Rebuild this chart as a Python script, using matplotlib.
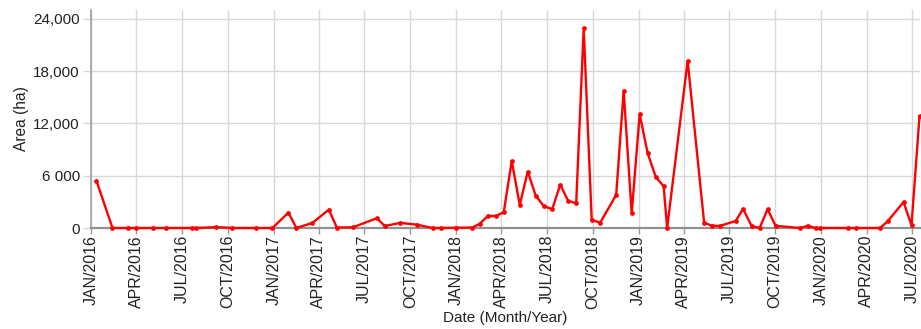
import matplotlib
matplotlib.use("Agg")
import matplotlib.pyplot as plt
import pandas as pd

plt.rcParams["font.family"] = ["Liberation Sans", "DejaVu Sans"]

# Observation dates and mapped area (ha)
obs_dates = [
    "2016-01-12", "2016-02-13", "2016-03-16", "2016-03-31", "2016-05-04",
    "2016-05-31", "2016-07-22", "2016-07-30", "2016-09-08", "2016-10-10",
    "2016-11-27", "2016-12-29", "2017-01-30", "2017-02-15", "2017-03-19",
    "2017-04-21", "2017-05-07", "2017-06-08", "2017-07-26", "2017-08-11",
    "2017-09-11", "2017-10-14", "2017-11-15", "2017-12-01", "2018-01-01",
    "2018-02-02", "2018-02-17", "2018-03-05", "2018-03-21", "2018-04-06",
    "2018-04-22", "2018-05-08", "2018-05-24", "2018-06-09", "2018-06-25",
    "2018-07-12", "2018-07-28", "2018-08-13", "2018-08-29", "2018-09-13",
    "2018-09-29", "2018-10-16", "2018-11-17", "2018-12-02", "2018-12-18",
    "2019-01-03", "2019-01-19", "2019-02-04", "2019-02-20", "2019-02-27",
    "2019-04-09", "2019-05-12", "2019-05-27", "2019-06-12", "2019-07-14",
    "2019-07-29", "2019-08-15", "2019-08-31", "2019-09-16", "2019-10-02",
    "2019-11-20", "2019-12-05", "2019-12-21", "2019-12-30", "2020-02-23",
    "2020-03-10", "2020-04-28", "2020-05-13", "2020-06-14", "2020-06-30",
    "2020-07-16",
]
area_ha = [
    5400, 0, 0, 0, 0,
    0, 0, 0, 100, 0,
    0, 0, 1760, 0, 580,
    2100, 50, 80, 1120, 230,
    590, 380, 0, 0, 30,
    50, 480, 1380, 1380, 1800,
    7690, 2660, 6460, 3710, 2510,
    2160, 4970, 3100, 2850, 22930,
    920, 610, 3790, 15730, 1690,
    13050, 8580, 5890, 4760, 0,
    19170, 610, 270, 230, 800,
    2180, 230, 0, 2150, 250,
    0, 250, 0, 0, 0,
    0, 0, 750, 2970, 320,
    12820,
]

# Axis ticks
x_tick_dates = [
    "2016-01-01", "2016-04-01", "2016-07-01", "2016-10-01",
    "2017-01-01", "2017-04-01", "2017-07-01", "2017-10-01",
    "2018-01-01", "2018-04-01", "2018-07-01", "2018-10-01",
    "2019-01-01", "2019-04-01", "2019-07-01", "2019-10-01",
    "2020-01-01", "2020-04-01", "2020-07-01",
]
x_tick_labels = [
    "JAN/2016", "APR/2016", "JUL/2016", "OCT/2016",
    "JAN/2017", "APR/2017", "JUL/2017", "OCT/2017",
    "JAN/2018", "APR/2018", "JUL/2018", "OCT/2018",
    "JAN/2019", "APR/2019", "JUL/2019", "OCT/2019",
    "JAN/2020", "APR/2020", "JUL/2020",
]
y_ticks = [0, 6000, 12000, 18000, 24000]
y_tick_labels = ["0", "6 000", "12,000", "18,000", "24,000"]

dates = pd.to_datetime(obs_dates)
tick_dates = pd.to_datetime(x_tick_dates)

fig = plt.figure(figsize=(9.21, 3.29), dpi=100)
ax = fig.add_axes([91 / 921, 1 - 228 / 329, 829 / 921, 218 / 329])

grid_col = "#d8d8d8"
text_col = "#222222"

ax.plot(dates, area_ha, color="#ff0000", lw=1.7, marker="o", ms=2.4,
        mec="#ff0000", mfc="#ff0000", clip_on=False, zorder=3)

ax.set_xlim(pd.Timestamp("2016-01-01"), pd.Timestamp("2020-07-17"))
ax.set_ylim(0, 25000)

ax.set_xticks(tick_dates)
ax.set_xticklabels(x_tick_labels, rotation=90, fontsize=11.5, color=text_col)
ax.set_yticks(y_ticks)
ax.set_yticklabels(y_tick_labels, fontsize=11, color=text_col)

ax.grid(True, color=grid_col, lw=1.0)
ax.set_axisbelow(True)

ax.tick_params(axis="x", direction="out", length=4, width=1, color="#999999", pad=1)
ax.tick_params(axis="y", direction="out", length=6, width=1, color=grid_col, pad=2)

for side in ("top", "right"):
    ax.spines[side].set_visible(False)
ax.spines["left"].set_color("#a0a0a0")
ax.spines["left"].set_linewidth(1.2)
ax.spines["bottom"].set_color("#909090")
ax.spines["bottom"].set_linewidth(1.6)

ax.set_ylabel("Area (ha)", fontsize=11.2, color=text_col, labelpad=3)
ax.set_xlabel("Date (Month/Year)", fontsize=11, color=text_col, labelpad=2)

fig.savefig("out.png", dpi=100)
